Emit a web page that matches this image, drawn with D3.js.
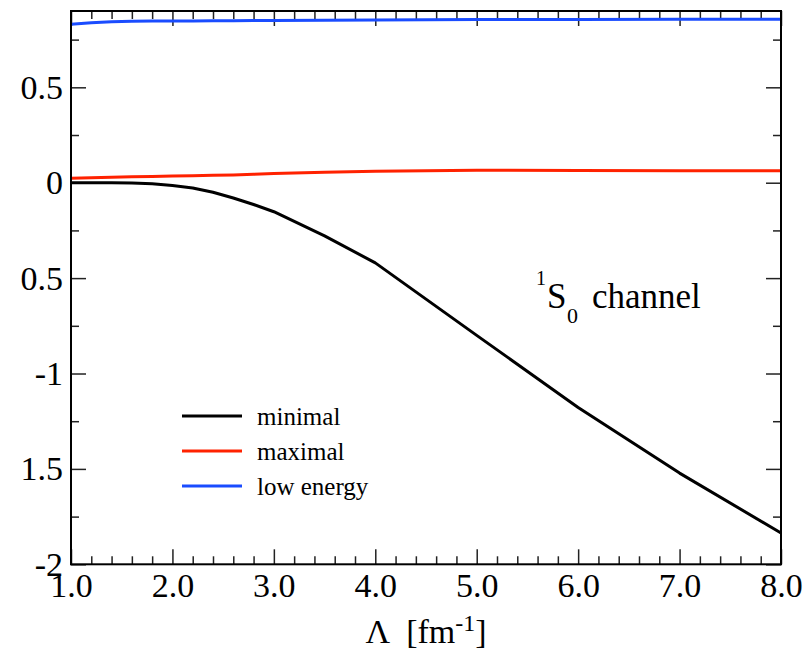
<!DOCTYPE html>
<html>
<head>
<meta charset="utf-8">
<script src="https://cdn.jsdelivr.net/npm/d3@7"></script>
<style>
  body { margin: 0; background: #fff; }
  svg { display: block; font-family: "Liberation Serif", "DejaVu Serif", serif; }
  .tick line { stroke: #222; stroke-width: 1.5; }
  .line { fill: none; stroke-width: 3; stroke-linejoin: round; }
</style>
</head>
<body>
<svg width="811" height="651"></svg>
<script>
// cutoff values and the three curves
var lambda    = [1.0, 1.2, 1.4, 1.6, 1.8, 2.0, 2.2, 2.4, 2.6, 2.8, 3.0, 3.5, 4.0, 5.0, 6.0, 7.0, 8.0];
var minimal   = [0, 0, 0, -0.002, -0.006, -0.015, -0.028, -0.05, -0.08, -0.114, -0.152, -0.279, -0.42, -0.80, -1.178, -1.522, -1.836];
var maximal   = [0.023, 0.026, 0.029, 0.031, 0.033, 0.035, 0.037, 0.039, 0.041, 0.044, 0.048, 0.055, 0.060, 0.065, 0.064, 0.063, 0.063];
var lowEnergy = [0.830, 0.839, 0.844, 0.846, 0.847, 0.848, 0.848, 0.849, 0.849, 0.850, 0.850, 0.852, 0.853, 0.855, 0.856, 0.857, 0.857];

var xTicks = [1, 2, 3, 4, 5, 6, 7, 8];
var xTickLabels = ["1.0", "2.0", "3.0", "4.0", "5.0", "6.0", "7.0", "8.0"];
var yTicks = [-2, -1.5, -1, -0.5, 0, 0.5];
var yTickLabels = ["-2", "1.5", "-1", "0.5", "0", "0.5"];

var seriesNames = ["minimal", "maximal", "low energy"];
var seriesColors = ["#000000", "#ff2200", "#1a4cff"];
var seriesValues = [minimal, maximal, lowEnergy];

var svg = d3.select("svg"),
    frame = { left: 71, right: 781, top: 11, bottom: 564.3 };

var x = d3.scaleLinear().domain([1, 8]).range([frame.left, frame.right]);
var y = d3.scaleLinear().domain([-2, 0.9]).range([frame.bottom, frame.top]);

var xMinor = d3.range(1, 8.01, 0.2).filter(function (v) { return Math.abs(v - Math.round(v)) > 0.01; });
var yMinor = [-1.75, -1.25, -0.75, -0.25, 0.25, 0.75];

function fixFont(g) {
  g.attr("font-family", null).attr("font-size", null);
  g.select(".domain").remove();
}

// bottom axis with labels
svg.append("g").attr("transform", "translate(0," + frame.bottom + ")")
  .call(d3.axisBottom(x).tickValues(xTicks).tickSize(-15).tickPadding(9)
    .tickFormat(function (d, i) { return xTickLabels[i]; }))
  .call(fixFont)
  .selectAll("text").attr("font-size", 34).attr("fill", "#000");
svg.append("g").attr("transform", "translate(0," + frame.bottom + ")")
  .call(d3.axisBottom(x).tickValues(xMinor).tickSize(-8).tickFormat(""))
  .call(fixFont);

// top axis, ticks only
svg.append("g").attr("transform", "translate(0," + frame.top + ")")
  .call(d3.axisTop(x).tickValues(xTicks).tickSize(-15).tickFormat(""))
  .call(fixFont);
svg.append("g").attr("transform", "translate(0," + frame.top + ")")
  .call(d3.axisTop(x).tickValues(xMinor).tickSize(-8).tickFormat(""))
  .call(fixFont);

// left axis with labels
svg.append("g").attr("transform", "translate(" + frame.left + ",0)")
  .call(d3.axisLeft(y).tickValues(yTicks).tickSize(-15).tickPadding(8)
    .tickFormat(function (d, i) { return yTickLabels[i]; }))
  .call(fixFont)
  .selectAll("text").attr("font-size", 34).attr("fill", "#000");
svg.append("g").attr("transform", "translate(" + frame.left + ",0)")
  .call(d3.axisLeft(y).tickValues(yMinor).tickSize(-8).tickFormat(""))
  .call(fixFont);

// right axis, ticks only
svg.append("g").attr("transform", "translate(" + frame.right + ",0)")
  .call(d3.axisRight(y).tickValues(yTicks).tickSize(-15).tickFormat(""))
  .call(fixFont);
svg.append("g").attr("transform", "translate(" + frame.right + ",0)")
  .call(d3.axisRight(y).tickValues(yMinor).tickSize(-8).tickFormat(""))
  .call(fixFont);

// curves
var line = d3.line()
  .x(function (d) { return x(d[0]); })
  .y(function (d) { return y(d[1]); });

seriesValues.forEach(function (vals, i) {
  svg.append("path")
    .datum(lambda.map(function (l, j) { return [l, vals[j]]; }))
    .attr("class", "line")
    .attr("stroke", seriesColors[i])
    .attr("d", line);
});

// frame
svg.append("rect")
  .attr("x", frame.left).attr("y", frame.top)
  .attr("width", frame.right - frame.left).attr("height", frame.bottom - frame.top)
  .attr("fill", "none").attr("stroke", "#000").attr("stroke-width", 2);

// legend
var legend = svg.append("g").attr("transform", "translate(182,416)");
seriesNames.forEach(function (name, i) {
  legend.append("line")
    .attr("x1", 0).attr("x2", 60)
    .attr("y1", i * 35).attr("y2", i * 35)
    .attr("stroke", seriesColors[i]).attr("stroke-width", 3);
  legend.append("text")
    .attr("x", 75).attr("y", i * 35 + 9)
    .attr("font-size", 25)
    .text(name);
});

// channel annotation
var ann = svg.append("text");
ann.append("tspan").attr("x", 536).attr("y", 285).attr("font-size", 20).text("1");
ann.append("tspan").attr("x", 547).attr("y", 308).attr("font-size", 35).text("S");
ann.append("tspan").attr("x", 567).attr("y", 323).attr("font-size", 22).text("0");
ann.append("tspan").attr("x", 592).attr("y", 308).attr("font-size", 35).text("channel");

// x axis title
var title = svg.append("text")
  .attr("x", (frame.left + frame.right) / 2).attr("y", 643)
  .attr("text-anchor", "middle")
  .attr("font-size", 34)
  .style("white-space", "pre");
title.append("tspan").text("\u039B  [fm");
title.append("tspan").attr("font-size", 24).attr("dy", -12).text("-1");
title.append("tspan").attr("dy", 12).text("]");
</script>
</body>
</html>
